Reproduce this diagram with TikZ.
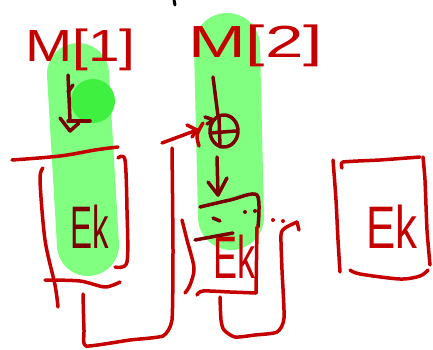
\documentclass[tikz,border=0pt]{standalone}
\usepackage{fontspec}
\setmainfont{Liberation Sans}
\usepackage{graphicx}
\definecolor{pen}{HTML}{C40000}
\definecolor{ink}{HTML}{7A0000}
\definecolor{hl}{HTML}{80FF80}
\definecolor{hldark}{HTML}{40F040}
\begin{document}
\begin{tikzpicture}[x=1pt,y=-1pt,line cap=round,line join=round,
  penline/.style={draw=pen,line width=3.5pt},
  inkline/.style={draw=ink,line width=3.5pt},
  hand/.style={text=pen,inner sep=0pt,anchor=base west},
  bigfont/.style={font=\fontsize{45}{45}\selectfont},
  ekfont/.style={font=\fontsize{60}{60}\selectfont}]
\useasboundingbox (0,0) rectangle (433,350);
% highlights
\draw[hl,line width=62pt] (78,74) -- (88,245);
\draw[hl,line width=66pt] (227,46) -- (231,217);
\fill[hldark] (93,101) circle (22pt);
% top black mark
\draw[black,line width=3pt] (174,0) -- (175,5);
% titles
\node[hand,bigfont] (m1) at (25,62) {\scalebox{1.26}[1]{M[1]}};
\node[hand,bigfont] (m2) at (188,58) {\scalebox{1.54}[1]{M[2]}};
% Ek labels
\node[hand,ekfont,text=ink] (ek1) at (70,248) {\scalebox{0.55}[1]{Ek}};
\node[hand,ekfont] (ek2) at (213,278) {\scalebox{0.6}[1]{Ek}};
\node[hand,ekfont] (ek3) at (366,248) {\scalebox{0.73}[1]{Ek}};
% blob 1 arrow
\draw[inkline] (68,75) -- (70,120);
\draw[inkline] (68,92) -- (73,85);
\draw[inkline] (60,118) -- (70,131) -- (79,123);
\draw[inkline] (68,121) -- (90,121);
% blob 2 arrows and circle
\draw[inkline] (213,77) -- (218,116);
\draw[inkline] (224,131) ellipse (14pt and 16pt);
\draw[inkline] (219,116) -- (220,147);
\draw[inkline] (210,133) -- (236,131);
\draw[inkline] (205,117) -- (214,120) -- (207,124);
\draw[inkline] (217,157) -- (218,195);
\draw[inkline] (208,182) -- (218,195) -- (227,178);
\draw[inkline] plot[smooth,tension=0.5] coordinates {(200,207) (230,200) (257,195) (258,227)};
\fill[ink] (245,212) circle (2pt) (255,211) circle (2pt);
\fill[pen] (273,220) circle (2pt) (283,221) circle (2pt);
\draw[inkline] (213,218) -- (220,221);
\draw[inkline] (195,240) -- (233,233);
% box 1
\draw[penline] plot[smooth,tension=0.6] coordinates {(12,160) (60,156) (95,150) (118,147)};
\draw[penline] plot[smooth,tension=0.5] coordinates {(118,158) (125,160) (127,210) (127,262) (115,267)};
\draw[penline] plot[smooth] coordinates {(43,168) (40,180) (45,240) (55,285) (58,307)};
\draw[penline] plot[smooth] coordinates {(45,280) (80,281) (105,287) (120,282)};
% loop 1
\draw[penline] plot[smooth,tension=0.3] coordinates {(83,294) (84,330) (86,346) (130,340) (163,336) (172,320) (173,250) (172,148)};
\draw[penline] (162,143) -- (197,130);
\draw[penline] (187,125) -- (197,130) -- (192,137);
\draw[penline] plot[smooth] coordinates {(203,123) (197,135) (199,146)};
% box 2
\draw[penline] plot[smooth] coordinates {(182,220) (187,240) (194,268) (190,285) (185,293)};
\draw[penline] plot[smooth] coordinates {(197,295) (203,291) (230,292) (256,293)};
\draw[penline] (257,227) -- (256,293);
\draw[penline] plot[smooth,tension=0.4] coordinates {(220,297) (221,320) (224,330) (235,337) (255,335) (277,332) (284,318) (282,270) (281,235) (285,228) (297,222)};
\draw[penline] (297,222) -- (299,230);
% box 3
\draw[penline] plot[smooth] coordinates {(333,160) (336,200) (338,240) (340,272)};
\draw[penline] plot[smooth,tension=0.3] coordinates {(342,168) (343,162) (380,160) (420,157)};
\draw[penline] plot[smooth,tension=0.3] coordinates {(423,157) (425,180) (427,230) (430,265)};
\draw[penline] plot[smooth] coordinates {(350,270) (360,274) (400,279) (420,276) (428,270)};
\end{tikzpicture}
\end{document}
